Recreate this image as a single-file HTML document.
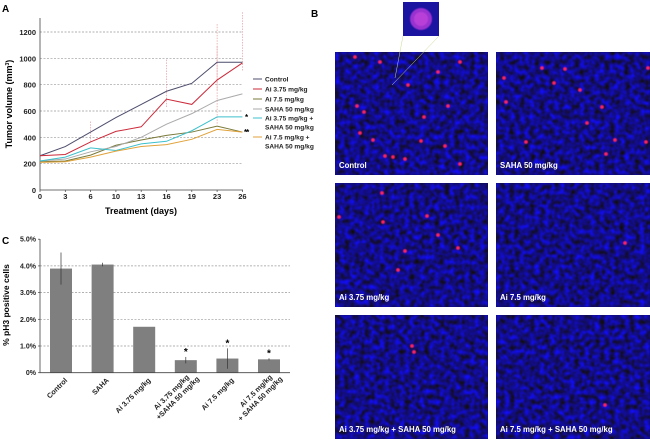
<!DOCTYPE html>
<html><head><meta charset="utf-8">
<style>
body{margin:0;background:#fff;width:650px;height:439px;overflow:hidden;font-family:"Liberation Sans",Arial,sans-serif;}
svg text{font-family:"Liberation Sans",Arial,sans-serif;}
</style></head>
<body>
<svg id="fig" width="650" height="439" viewBox="0 0 650 439" xmlns="http://www.w3.org/2000/svg">
<defs>
<filter id="cells" x="0" y="0" width="100%" height="100%" color-interpolation-filters="sRGB">
<feTurbulence type="fractalNoise" baseFrequency="0.2" numOctaves="2" seed="3" result="n"/>
<feColorMatrix in="n" type="matrix" values="0 0 0 0 0.07  0 0 0 0 0.05  1.6 0 0 0 -0.28  0 0 0 0 1" result="c"/>
<feGaussianBlur in="c" stdDeviation="0.7"/>
</filter>
<filter id="glow"><feGaussianBlur stdDeviation="0.6"/></filter>
</defs>
<g id="panelA"></g>
<g id="panelC"></g>
<g id="panelB"></g>
</svg>
<script>
// ---- Panel A data ----
const days = ["0","3","6","10","13","16","19","23","26"];
const yTicksA = [0,200,400,600,800,1000,1200];
const control = [260,330,440,550,650,750,810,970,970];
const ai375 = [260,270,365,445,480,690,650,835,965];
const ai75 = [215,220,265,340,380,415,440,485,440];
const saha = [220,235,290,330,400,500,580,680,730];
const combo375 = [220,250,320,300,350,370,450,555,555];
const combo75 = [210,215,250,295,330,345,385,460,440];
const seriesNames = ["Control","Ai 3.75 mg/kg","Ai 7.5 mg/kg","SAHA 50 mg/kg","Ai 3.75 mg/kg +|SAHA 50 mg/kg","Ai 7.5 mg/kg +|SAHA 50 mg/kg"];
// ---- Panel C data ----
const groups = ["Control","SAHA","Ai 3.75 mg/kg","Ai 3.75 mg/kg|+SAHA 50 mg/kg","Ai 7.5 mg/kg","Ai 7.5 mg/kg|+ SAHA 50 mg/kg"];
const ph3 = [3.9,4.05,1.72,0.47,0.53,0.5];
const ph3Err = [0.6,0.07,0,0.12,0.38,0.04];
const ph3Sig = [false,false,false,true,true,true];
const yTicksC = [0,1,2,3,4,5];

const NS="http://www.w3.org/2000/svg";
function mk(tag,attrs,parent,txt){const e=document.createElementNS(NS,tag);for(const k in attrs)e.setAttribute(k,attrs[k]);if(txt!==undefined)e.textContent=txt;parent.appendChild(e);return e;}

// Panel A
const A=document.getElementById('panelA');
const xA=i=>40+i*25.3;
const yA=v=>190-v*(158/1200);
let t=mk('text',{x:2,y:12,'font-size':10,'font-weight':'bold'},A,'A');


yTicksA.forEach(v=>{
  if(v>0){const g=mk('line',{x1:40,x2:243,y1:yA(v),y2:yA(v),stroke:'#999','stroke-width':0.7,'stroke-dasharray':'2,1.5'},A);
  
  }
  const l=mk('text',{x:36,y:yA(v)+3,'font-size':7.5,'font-weight':'bold','text-anchor':'end',fill:'#222'},A,String(v));
  
  
});
days.forEach((d,i)=>{
  const l=mk('text',{x:xA(i),y:199,'font-size':7.5,'font-weight':'bold','text-anchor':'middle',fill:'#222'},A,d);
  
  
  mk('line',{x1:xA(i),x2:xA(i),y1:190,y2:192,stroke:'#444','stroke-width':0.7},A);
});
[[5,630,990],[7,760,1260],[8,900,1350],[2,360,520],[7,500,1090]].forEach(e=>{
  const l=mk('line',{x1:xA(e[0]),x2:xA(e[0]),y1:yA(e[2]),y2:yA(e[1]),stroke:'#e08a90','stroke-width':0.6,'stroke-dasharray':'1.5,1.2'},A);
  
  
});
let ax=mk('path',{d:'M40,18 V190 H243',fill:'none',stroke:'#444','stroke-width':0.8},A);


const colorsA=['#4c4c6c','#cc2a3a','#7a7a3a','#aaaaaa','#3cc0cc','#e0a23a'];
[control,ai375,ai75,saha,combo375,combo75].forEach((s,k)=>{
  const p=mk('polyline',{points:s.map((v,i)=>xA(i)+','+yA(v)).join(' '),fill:'none',stroke:colorsA[k],'stroke-width':1},A);
  
  
});
let s1=mk('text',{x:245,y:120,'font-size':8,'font-weight':'bold'},A,'*');


let s2=mk('text',{x:244,y:135,'font-size':8,'font-weight':'bold','letter-spacing':'-1'},A,'**');


const legY=[79,89,99,109,118,137];
seriesNames.forEach((n,k)=>{
  const g=mk('g',{},A);
  
  
  const parts=n.split('|');
  const ly=legY[k];
  mk('line',{x1:253,x2:262,y1:ly,y2:ly,stroke:colorsA[k],'stroke-width':1},g);
  parts.forEach((p,j)=>mk('text',{x:265,y:ly+2.5+j*9,'font-size':6.6,'font-weight':'bold',fill:'#222'},g,p));
});
let yt=mk('text',{x:0,y:0,'font-size':9,'font-weight':'bold','text-anchor':'middle',transform:'translate(12,104) rotate(-90)'},A);


yt.innerHTML='Tumor volume (mm<tspan font-size="5" dy="-3">3</tspan><tspan dy="3">)</tspan>';
let xt=mk('text',{x:141,y:214,'font-size':9,'font-weight':'bold','text-anchor':'middle'},A,'Treatment (days)');



// Panel C
const C=document.getElementById('panelC');
const yC=v=>372.7-v*26.7;
const xC=i=>61+i*41.6;
let tc=mk('text',{x:2,y:244,'font-size':10,'font-weight':'bold'},C,'C');


yTicksC.forEach(v=>{
  if(v>0&&v<5){const g=mk('line',{x1:40,x2:290,y1:yC(v),y2:yC(v),stroke:'#999','stroke-width':0.7,'stroke-dasharray':'2,1.5'},C);
  
  }
  const l=mk('text',{x:36,y:yC(v)+2.5,'font-size':7,'font-weight':'bold','text-anchor':'end',fill:'#222'},C,(v===0?'0':v.toFixed(1))+'%');
  
  
  mk('line',{x1:38,x2:40,y1:yC(v),y2:yC(v),stroke:'#444','stroke-width':0.7},C);
});
ph3.forEach((v,i)=>{
  const b=mk('rect',{x:xC(i)-11,y:yC(v),width:22,height:yC(0)-yC(v),fill:'#7f7f7f'},C);
  
  
  if(ph3Err[i]>0){const e=mk('line',{x1:xC(i),x2:xC(i),y1:yC(v+ph3Err[i]),y2:yC(v-ph3Err[i]),stroke:'#333','stroke-width':0.7},C);
  
  }
  if(ph3Sig[i]){const s=mk('text',{x:xC(i),y:yC(v+ph3Err[i])-2,'font-size':10,'font-weight':'bold','text-anchor':'middle'},C,'*');
  
  }
  const parts=groups[i].split('|');
  const g=mk('g',{transform:'translate('+(xC(i)+4)+',378) rotate(-45)'},C);
  
  
  parts.forEach((p,j)=>mk('text',{x:j*6,y:j*8.5+4-(parts.length-1)*8.5+(parts.length>1?4:0),'font-size':7.2,'font-weight':'bold','text-anchor':'end',fill:'#222'},g,p));
});
let axc=mk('path',{d:'M40,239 V372.7 H290',fill:'none',stroke:'#444','stroke-width':0.8},C);


let yct=mk('text',{x:0,y:0,'font-size':8.5,'font-weight':'bold','text-anchor':'middle',transform:'translate(9,305) rotate(-90)'},C,'% pH3 positive cells');



// Panel B
const B=document.getElementById('panelB');
let tb=mk('text',{x:311,y:17,'font-size':10,'font-weight':'bold'},B,'B');


const imgs=[
 {x:335,y:52,w:153,h:123,label:'Control',dots:[[20,5],[125,10],[103,20],[73,33],[22,54],[29,60],[113,54],[89,65],[25,81],[86,89],[110,94],[50,104],[58,105],[70,107],[125,112],[38,88],[45,10]]},
 {x:496,y:52,w:154,h:123,label:'SAHA 50 mg/kg',dots:[[46,16],[69,17],[58,31],[8,26],[10,50],[106,55],[91,71],[30,90],[119,88],[110,102],[152,16],[150,90],[84,38]]},
 {x:335,y:183,w:153,h:124,label:'Ai 3.75 mg/kg',dots:[[47,10],[48,39],[92,33],[103,52],[70,68],[123,65],[63,87],[4,34]]},
 {x:496,y:183,w:154,h:124,label:'Ai 7.5 mg/kg',dots:[[129,60]]},
 {x:335,y:315,w:153,h:124,label:'Ai 3.75 mg/kg + SAHA 50 mg/kg',dots:[[77,31],[79,37]]},
 {x:496,y:315,w:154,h:124,label:'Ai 7.5 mg/kg + SAHA 50 mg/kg',dots:[[109,90]]}
];
imgs.forEach((im,k)=>{
  const g=mk('g',{},B);
  
  
  mk('rect',{x:im.x,y:im.y,width:im.w,height:im.h,fill:'#0c0c70'},g);
  mk('rect',{x:im.x,y:im.y,width:im.w,height:im.h,filter:'url(#cells)'},g);
  im.dots.forEach(d=>mk('circle',{cx:im.x+d[0],cy:im.y+d[1],r:1.9,fill:'#ff2060',filter:'url(#glow)'},g));
  const l=mk('text',{x:im.x+4,y:im.y+im.h-7,'font-size':7.8,'font-weight':'bold',fill:'#fff'},g,im.label);
  
  
});
const ins=mk('g',{},B);


mk('line',{x1:395,y1:78,x2:403,y2:36,stroke:'#c8d890','stroke-width':0.5},ins);
mk('line',{x1:392,y1:85,x2:439,y2:36,stroke:'#c8d890','stroke-width':0.5},ins);
mk('rect',{x:403,y:2,width:36,height:34,fill:'#1a14a0'},ins);
mk('circle',{cx:421,cy:19,r:11,fill:'#9a30d0',filter:'url(#glow)'},ins);
mk('circle',{cx:421,cy:19,r:7,fill:'#b840d8',filter:'url(#glow)'},ins);
</script>
</body></html>
